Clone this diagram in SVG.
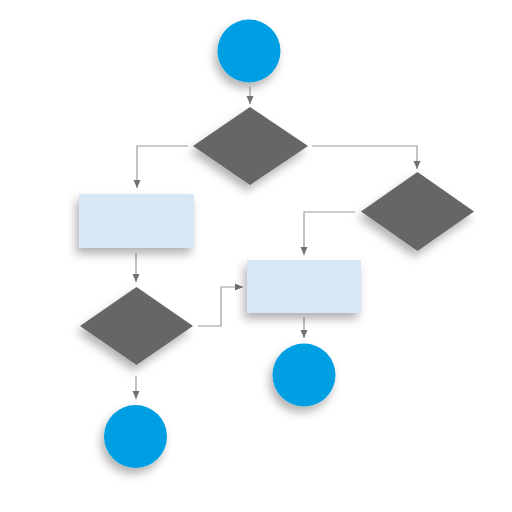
<svg xmlns="http://www.w3.org/2000/svg" width="512" height="512" viewBox="0 0 512 512">
<defs>
<filter id="sh" x="-30%" y="-30%" width="160%" height="170%">
<feDropShadow dx="-3" dy="6" stdDeviation="5" flood-color="#000" flood-opacity="0.3"/>
</filter>
<marker id="ah" viewBox="0 0 8 8" refX="8" refY="4" markerWidth="8" markerHeight="8" markerUnits="userSpaceOnUse" orient="auto">
<path d="M0,0.5 L8,4 L0,7.5 Z" fill="#707070"/>
</marker>
<style>
.term{fill:#009FE3;filter:url(#sh)}
.dec{fill:#666666;filter:url(#sh)}
.proc{fill:#D8E7F5;filter:url(#sh)}
.c{fill:none;stroke:#9a9a9a;stroke-width:1.2;marker-end:url(#ah)}
</style>
</defs>
<rect width="512" height="512" fill="#fff"/>
<g id="connectors">
<path class="c" d="M250,87 V104"/>
<path class="c" d="M188,146 H137 V188"/>
<path class="c" d="M312,146 H417 V169"/>
<path class="c" d="M355,212 H304 V255"/>
<path class="c" d="M136,253 V282"/>
<path class="c" d="M198,326 H221 V287 H243"/>
<path class="c" d="M304,317 V338"/>
<path class="c" d="M136,376 V399"/>
</g>
<g id="start"><circle class="term" cx="249" cy="51" r="31.5"/></g>
<g id="decision1"><polygon class="dec" points="250,107 308,146 250,185 193,146"/></g>
<g id="process1"><rect class="proc" x="79" y="194" width="115" height="54"/></g>
<g id="decision3"><polygon class="dec" points="417.5,172 474,211.5 417.5,251 361,211.5"/></g>
<g id="process2"><rect class="proc" x="247" y="260" width="114" height="53"/></g>
<g id="decision2"><polygon class="dec" points="136.5,287 193,326 136.5,365 80,326"/></g>
<g id="end2"><circle class="term" cx="304" cy="375" r="31.5"/></g>
<g id="end1"><circle class="term" cx="135.5" cy="436.5" r="31.5"/></g>
</svg>
